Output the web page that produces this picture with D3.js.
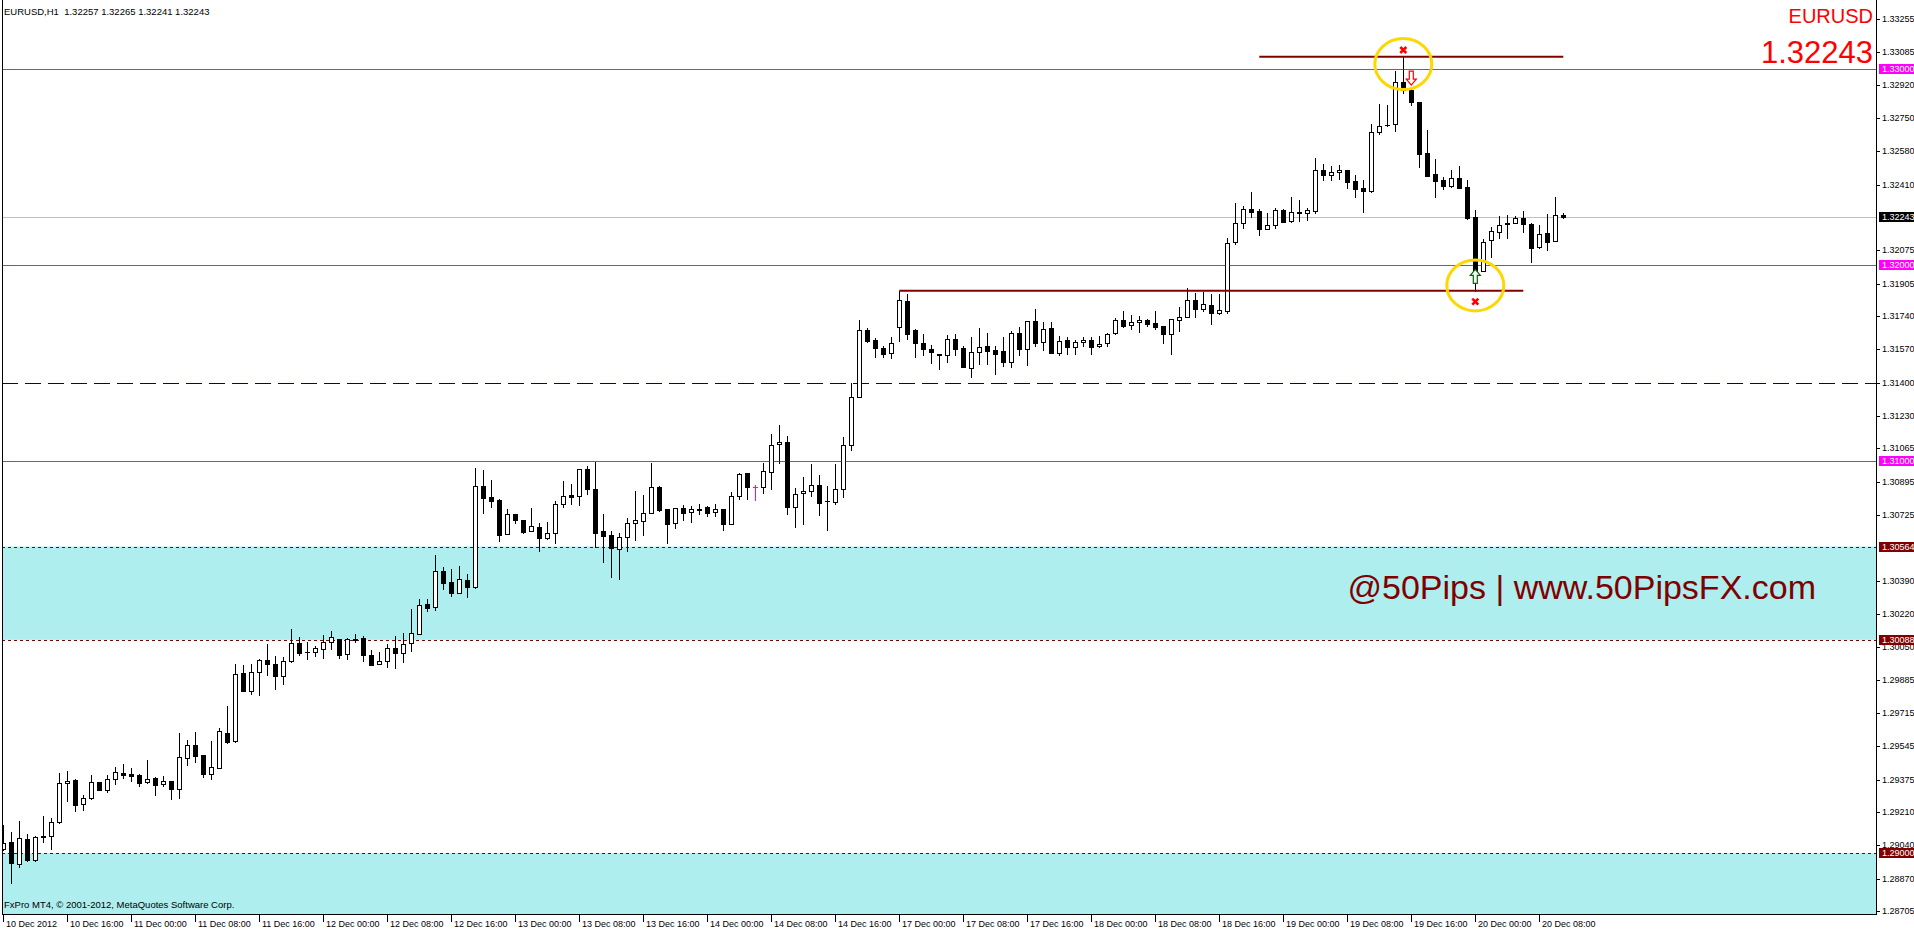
<!DOCTYPE html>
<html><head><meta charset="utf-8">
<script src="https://cdn.jsdelivr.net/npm/d3@7"></script>
<style>
html,body{margin:0;padding:0;background:#fff;overflow:hidden}
svg{display:block}
text{font-family:"Liberation Sans",Arial,sans-serif}
</style></head><body>
<svg id="c" width="1914" height="931"></svg>
<script>
// ---------------- DATA ----------------
const symbol = "EURUSD";
const timeframe = "H1";
const lastOHLC = [1.32257, 1.32265, 1.32241, 1.32243];
const lastPrice = 1.32243;

const opens = [1.29020,1.29056,1.28943,1.29071,1.28967,1.29086,1.29086,1.29161,1.29356,1.29373,
1.29249,1.29280,1.29362,1.29324,1.29377,1.29409,1.29404,1.29397,1.29362,1.29382,
1.29351,1.29367,1.29329,1.29484,1.29550,1.29499,1.29406,1.29436,1.29611,1.29572,
1.29917,1.29829,1.29923,1.29985,1.29963,1.29906,1.29979,1.30070,1.30025,1.30025,
1.30043,1.30076,1.30091,1.30014,1.30094,1.30096,1.30009,1.29963,1.29979,1.30045,
1.30020,1.30071,1.30116,1.30271,1.30254,1.30438,1.30382,1.30326,1.30394,1.30360,
1.30871,1.30817,1.30800,1.30626,1.30728,1.30700,1.30642,1.30662,1.30609,1.30632,
1.30779,1.30825,1.30820,1.30958,1.30856,1.30642,1.30621,1.30550,1.30611,1.30683,
1.30693,1.30734,1.30866,1.30754,1.30683,1.30759,1.30739,1.30754,1.30764,1.30739,
1.30754,1.30678,1.30820,1.30938,1.30866,1.30866,1.30943,1.31086,1.31096,1.30764,
1.30836,1.30846,1.30876,1.30795,1.30793,1.30856,1.31080,1.31325,1.31667,1.31616,
1.31575,1.31550,1.31682,1.31815,1.31667,1.31601,1.31570,1.31548,1.31540,1.31621,
1.31577,1.31477,1.31555,1.31585,1.31565,1.31562,1.31504,1.31653,1.31570,1.31713,
1.31606,1.31677,1.31550,1.31616,1.31584,1.31606,1.31618,1.31585,1.31604,1.31652,
1.31718,1.31693,1.31708,1.31720,1.31704,1.31687,1.31647,1.31721,1.31733,1.31820,
1.31774,1.31795,1.31754,1.31768,1.32116,1.32213,1.32284,1.32274,1.32182,1.32203,
1.32279,1.32227,1.32269,1.32264,1.32278,1.32483,1.32461,1.32473,1.32483,1.32427,
1.32391,1.32380,1.32677,1.32716,1.32718,1.32932,1.32893,1.32833,1.32570,1.32463,
1.32434,1.32405,1.32442,1.32398,1.32244,1.31972,1.32126,1.32167,1.32213,1.32216,
1.32238,1.32208,1.32091,1.32162,1.32121,1.32257];

const highs = [1.29144,1.29107,1.29164,1.29098,1.29086,1.29190,1.29180,1.29409,1.29419,1.29377,
1.29297,1.29399,1.29362,1.29399,1.29440,1.29455,1.29435,1.29404,1.29475,1.29390,
1.29394,1.29367,1.29613,1.29577,1.29618,1.29499,1.29572,1.29637,1.29751,1.29965,
1.29960,1.29965,1.29991,1.30067,1.30006,1.29999,1.30144,1.30101,1.30079,1.30057,
1.30113,1.30133,1.30091,1.30096,1.30118,1.30108,1.30037,1.30026,1.30067,1.30108,
1.30123,1.30246,1.30297,1.30297,1.30521,1.30460,1.30450,1.30465,1.30424,1.30965,
1.30955,1.30904,1.30805,1.30756,1.30728,1.30700,1.30761,1.30684,1.30689,1.30796,
1.30898,1.30885,1.30958,1.30975,1.30997,1.30730,1.30642,1.30632,1.30708,1.30847,
1.30827,1.30990,1.30871,1.30757,1.30759,1.30776,1.30771,1.30781,1.30771,1.30781,
1.30754,1.30841,1.30939,1.30938,1.30878,1.30990,1.31138,1.31184,1.31128,1.30861,
1.30919,1.30985,1.30929,1.30873,1.30985,1.31123,1.31398,1.31720,1.31679,1.31628,
1.31587,1.31633,1.31869,1.31852,1.31672,1.31648,1.31591,1.31548,1.31643,1.31648,
1.31587,1.31633,1.31677,1.31653,1.31587,1.31633,1.31665,1.31682,1.31716,1.31774,
1.31711,1.31711,1.31638,1.31631,1.31616,1.31635,1.31631,1.31636,1.31655,1.31728,
1.31766,1.31744,1.31742,1.31725,1.31764,1.31687,1.31723,1.31784,1.31881,1.31856,
1.31861,1.31853,1.31853,1.32136,1.32317,1.32303,1.32373,1.32284,1.32266,1.32291,
1.32284,1.32347,1.32332,1.32289,1.32546,1.32516,1.32505,1.32510,1.32483,1.32458,
1.32436,1.32718,1.32822,1.32816,1.32992,1.33063,1.32900,1.32833,1.32689,1.32539,
1.32451,1.32483,1.32504,1.32432,1.32279,1.32131,1.32196,1.32249,1.32254,1.32252,
1.32274,1.32216,1.32203,1.32261,1.32346,1.32265];

const lows = [1.29016,1.28850,1.28928,1.28962,1.28962,1.29059,1.29023,1.29156,1.29268,1.29217,
1.29219,1.29278,1.29324,1.29314,1.29351,1.29385,1.29370,1.29345,1.29356,1.29299,
1.29341,1.29278,1.29283,1.29452,1.29467,1.29389,1.29379,1.29433,1.29564,1.29569,
1.29829,1.29812,1.29809,1.29909,1.29839,1.29865,1.29977,1.30013,1.29992,1.30006,
1.29997,1.30043,1.29997,1.29992,1.30077,1.29982,1.29962,1.29963,1.29952,1.29946,
1.29977,1.30033,1.30116,1.30237,1.30242,1.30349,1.30314,1.30326,1.30309,1.30354,
1.30737,1.30768,1.30594,1.30626,1.30686,1.30635,1.30642,1.30543,1.30604,1.30584,
1.30768,1.30783,1.30778,1.30834,1.30560,1.30487,1.30411,1.30400,1.30543,1.30598,
1.30625,1.30734,1.30747,1.30584,1.30661,1.30701,1.30691,1.30729,1.30720,1.30720,
1.30650,1.30678,1.30808,1.30808,1.30802,1.30839,1.30859,1.30992,1.30729,1.30666,
1.30681,1.30824,1.30727,1.30650,1.30783,1.30819,1.31058,1.31325,1.31607,1.31533,
1.31533,1.31528,1.31614,1.31621,1.31529,1.31541,1.31499,1.31472,1.31507,1.31540,
1.31478,1.31427,1.31495,1.31494,1.31443,1.31483,1.31482,1.31541,1.31489,1.31587,
1.31567,1.31550,1.31541,1.31545,1.31545,1.31589,1.31545,1.31580,1.31587,1.31648,
1.31686,1.31676,1.31660,1.31689,1.31676,1.31604,1.31548,1.31665,1.31733,1.31733,
1.31767,1.31701,1.31751,1.31757,1.32106,1.32191,1.32247,1.32155,1.32182,1.32191,
1.32218,1.32218,1.32225,1.32232,1.32267,1.32436,1.32436,1.32441,1.32395,1.32349,
1.32272,1.32371,1.32669,1.32711,1.32686,1.32876,1.32816,1.32499,1.32456,1.32349,
1.32388,1.32400,1.32395,1.32233,1.31870,1.31972,1.32043,1.32140,1.32140,1.32213,
1.32167,1.32017,1.32089,1.32079,1.32121,1.32241];

const closes = [1.29054,1.28948,1.29076,1.28967,1.29081,1.29081,1.29158,1.29356,1.29368,1.29248,
1.29280,1.29362,1.29324,1.29377,1.29413,1.29401,1.29396,1.29360,1.29377,1.29350,
1.29367,1.29329,1.29489,1.29550,1.29498,1.29406,1.29438,1.29622,1.29567,1.29912,
1.29829,1.29923,1.29985,1.29967,1.29906,1.29979,1.30070,1.30023,1.30024,1.30045,
1.30077,1.30101,1.30013,1.30091,1.30089,1.30013,1.29962,1.29979,1.30045,1.30023,
1.30065,1.30122,1.30264,1.30252,1.30438,1.30380,1.30329,1.30397,1.30360,1.30871,
1.30813,1.30798,1.30625,1.30728,1.30698,1.30640,1.30667,1.30609,1.30632,1.30779,
1.30820,1.30819,1.30958,1.30856,1.30635,1.30620,1.30555,1.30611,1.30683,1.30698,
1.30734,1.30866,1.30751,1.30681,1.30759,1.30737,1.30754,1.30753,1.30737,1.30754,
1.30678,1.30820,1.30934,1.30866,1.30866,1.30948,1.31080,1.31096,1.30764,1.30831,
1.30848,1.30876,1.30788,1.30795,1.30856,1.31080,1.31325,1.31667,1.31614,1.31575,
1.31548,1.31601,1.31820,1.31647,1.31601,1.31570,1.31555,1.31540,1.31621,1.31574,
1.31482,1.31555,1.31580,1.31563,1.31545,1.31507,1.31653,1.31570,1.31713,1.31601,
1.31672,1.31550,1.31613,1.31580,1.31606,1.31618,1.31580,1.31597,1.31648,1.31718,
1.31691,1.31708,1.31718,1.31701,1.31682,1.31647,1.31723,1.31733,1.31820,1.31774,
1.31800,1.31754,1.31769,1.32111,1.32213,1.32284,1.32272,1.32182,1.32203,1.32279,
1.32221,1.32269,1.32266,1.32279,1.32483,1.32461,1.32473,1.32483,1.32425,1.32390,
1.32380,1.32677,1.32708,1.32713,1.32932,1.32893,1.32833,1.32567,1.32456,1.32431,
1.32405,1.32442,1.32395,1.32238,1.31972,1.32118,1.32172,1.32203,1.32208,1.32238,
1.32208,1.32089,1.32157,1.32119,1.32257,1.32243];

const firstBarTime = new Date(2012, 11, 10, 8, 0);
const priceTicks = [1.33255,1.33085,1.32920,1.32750,1.32580,1.32410,1.32075,1.31905,1.31740,1.31570,
1.31400,1.31230,1.31065,1.30895,1.30725,1.30390,1.30220,1.30050,1.29885,1.29715,1.29545,1.29375,
1.29210,1.29040,1.28870,1.28705];
const magentaLevels = [1.33000, 1.32000, 1.31000];
const dashedLevel = 1.31400;
const zoneLevels = [1.30564, 1.30088, 1.29000];
const zones = [[1.30564, 1.30088], [1.29000, null]];
const trendLines = [{from:157, to:195, price:1.33063}, {from:112, to:190, price:1.31869}];
const circles = [{bar:175, price:1.33025}, {bar:184, price:1.31896}];
const crosses = [{bar:175, price:1.33097}, {bar:184, price:1.31813}];
const arrows = [{bar:176, price:1.32918, dir:"down"}, {bar:184, price:1.31978, dir:"up"}];
const signalBars = [94];
const watermark = "@50Pips | www.50PipsFX.com";
const copyright = "FxPro MT4, \u00A9 2001-2012, MetaQuotes Software Corp.";

// ---------------- LAYOUT ----------------
const svg = d3.select("#c");
const plotL = 2, plotR = 1876, plotB = 914;
const x = d3.scaleLinear().domain([0, opens.length - 1]).range([3.3, 1563.3]);
const y = d3.scaleLinear().domain([1.28705, 1.33255]).range([911, 19]);
const FONT = '"Liberation Sans", Arial, sans-serif';

svg.append("rect").attr("width", 1914).attr("height", 931).attr("fill", "#fff");
svg.append("defs").append("clipPath").attr("id", "clip")
  .append("rect").attr("x", plotL + 1).attr("y", 0).attr("width", plotR - plotL - 1).attr("height", plotB);

const plot = svg.append("g").attr("clip-path", "url(#clip)");

// zones
plot.selectAll("rect.zone").data(zones).join("rect").attr("class", "zone")
  .attr("x", plotL).attr("width", plotR - plotL)
  .attr("y", d => y(d[0]))
  .attr("height", d => (d[1] === null ? plotB : y(d[1])) - y(d[0]))
  .attr("fill", "#AFEEEE");

// level lines
plot.selectAll("line.mag").data(magentaLevels).join("line")
  .attr("x1", plotL).attr("x2", plotR)
  .attr("y1", d => Math.round(y(d)) + 0.5).attr("y2", d => Math.round(y(d)) + 0.5)
  .attr("stroke", "#FF00FF").attr("stroke-width", 1);
plot.append("line").attr("x1", plotL).attr("x2", plotR)
  .attr("y1", Math.round(y(lastPrice)) + 0.5).attr("y2", Math.round(y(lastPrice)) + 0.5)
  .attr("stroke", "#C0C0C0");
plot.append("line").attr("x1", plotL).attr("x2", plotR)
  .attr("y1", Math.round(y(dashedLevel)) + 0.5).attr("y2", Math.round(y(dashedLevel)) + 0.5)
  .attr("stroke", "#000080").attr("stroke-dasharray", "16,7");
plot.selectAll("line.zl").data(zoneLevels).join("line")
  .attr("x1", plotL).attr("x2", plotR)
  .attr("y1", d => Math.round(y(d)) + 0.5).attr("y2", d => Math.round(y(d)) + 0.5)
  .attr("stroke", "#800000").attr("stroke-dasharray", "3,3");

// candles
const bars = opens.map((o, i) => ({i, o, h: highs[i], l: lows[i], c: closes[i]}));
const cg = plot.append("g");
bars.forEach(b => {
  const cx = Math.round(x(b.i));
  const col = signalBars.includes(b.i) ? "#FF00FF" : "#000";
  const top = Math.round(y(Math.max(b.o, b.c)));
  const bot = Math.round(y(Math.min(b.o, b.c)));
  const hy = Math.round(y(Math.max(b.h, b.o, b.c)));
  const ly = Math.round(y(Math.min(b.l, b.o, b.c)));
  cg.append("line").attr("x1", cx + 0.5).attr("x2", cx + 0.5).attr("y1", hy).attr("y2", ly + 1)
    .attr("stroke", col);
  if (bot - top < 1) {
    cg.append("line").attr("x1", cx - 2).attr("x2", cx + 3).attr("y1", top + 0.5).attr("y2", top + 0.5)
      .attr("stroke", col);
  } else {
    cg.append("rect").attr("x", cx - 1.5).attr("y", top + 0.5).attr("width", 4).attr("height", bot - top)
      .attr("fill", b.c >= b.o ? "#fff" : col).attr("stroke", col);
  }
});

// trend lines
plot.selectAll("line.trend").data(trendLines).join("line")
  .attr("x1", d => x(d.from)).attr("x2", d => x(d.to))
  .attr("y1", d => y(d.price)).attr("y2", d => y(d.price))
  .attr("stroke", "#800000").attr("stroke-width", 2);

// yellow circles
plot.selectAll("ellipse").data(circles).join("ellipse")
  .attr("cx", d => x(d.bar)).attr("cy", d => y(d.price)).attr("rx", 28.5).attr("ry", 25.5)
  .attr("fill", "none").attr("stroke", "#FFD700").attr("stroke-width", 3);

// red crosses
plot.selectAll("path.cross").data(crosses).join("path")
  .attr("transform", d => `translate(${x(d.bar)},${y(d.price)})`)
  .attr("d", "M-3,-3L3,3M-3,3L3,-3")
  .attr("stroke", "#FF0000").attr("stroke-width", 2.6).attr("fill", "none");

// hollow arrows
plot.selectAll("path.arrow").data(arrows).join("path")
  .attr("transform", d => `translate(${x(d.bar)},${y(d.price)})` + (d.dir === "down" ? "" : " scale(1,-1)"))
  .attr("d", "M0,0L-5,-6L-2,-6L-2,-14L2,-14L2,-6L5,-6Z")
  .attr("fill", "#fff")
  .attr("stroke", d => d.dir === "down" ? "#FF0000" : "#006400").attr("stroke-width", 1.2);

// watermark
svg.append("text").attr("x", 1816).attr("y", 599).attr("text-anchor", "end")
  .attr("font-size", 34).attr("fill", "#800000").text(watermark);

// header
svg.append("text").attr("x", 4).attr("y", 15).attr("font-size", 9.5).attr("fill", "#000")
  .style("white-space", "pre")
  .text(`${symbol},${timeframe}  ${lastOHLC.map(v => v.toFixed(5)).join(" ")}`);
svg.append("text").attr("x", 1873).attr("y", 23).attr("text-anchor", "end")
  .attr("font-size", 20).attr("fill", "#FF0000").text(symbol);
svg.append("text").attr("x", 1873).attr("y", 63).attr("text-anchor", "end")
  .attr("font-size", 31).attr("fill", "#FF0000").text(lastPrice.toFixed(5));
svg.append("text").attr("x", 4).attr("y", 908).attr("font-size", 9.5).attr("fill", "#000").text(copyright);

// frame
svg.append("line").attr("x1", plotL + 0.5).attr("x2", plotL + 0.5).attr("y1", 0).attr("y2", plotB + 1).attr("stroke", "#000");
svg.append("line").attr("x1", plotR + 0.5).attr("x2", plotR + 0.5).attr("y1", 0).attr("y2", plotB + 1).attr("stroke", "#000");
svg.append("line").attr("x1", plotL).attr("x2", plotR + 1).attr("y1", plotB + 0.5).attr("y2", plotB + 0.5).attr("stroke", "#000");

// right price axis
const ax = svg.append("g");
ax.selectAll("line.pt").data(priceTicks).join("line")
  .attr("x1", plotR + 1).attr("x2", plotR + 4)
  .attr("y1", d => Math.round(y(d)) + 0.5).attr("y2", d => Math.round(y(d)) + 0.5).attr("stroke", "#000");
ax.selectAll("text.pt").data(priceTicks).join("text")
  .attr("x", plotR + 6).attr("y", d => y(d)).attr("dy", "0.35em")
  .attr("font-size", 9).attr("fill", "#000").text(d => d.toFixed(5));

const boxes = [
  ...magentaLevels.map(p => ({p, bg: "#FF00FF"})),
  {p: lastPrice, bg: "#000"},
  ...zoneLevels.map(p => ({p, bg: "#800000"}))
];
const bx = ax.selectAll("g.box").data(boxes).join("g")
  .attr("transform", d => `translate(${plotR + 3},${Math.round(y(d.p))})`);
bx.append("rect").attr("x", 0).attr("y", -5).attr("width", 40).attr("height", 10).attr("fill", d => d.bg);
bx.append("text").attr("x", 3).attr("y", 0).attr("dy", "0.35em").attr("font-size", 9)
  .attr("fill", "#fff").text(d => d.p.toFixed(5));

// time axis
const times = [];
let t = new Date(firstBarTime);
while (times.length < opens.length) {
  const wd = t.getDay();
  if (wd !== 0 && wd !== 6) times.push(new Date(t));
  t = new Date(t.getTime() + 3600000);
}
const fmtFirst = d3.timeFormat("%-d %b %Y"), fmt = d3.timeFormat("%-d %b %H:%M");
const tickIdx = d3.range(0, times.length, 8);
const tx = svg.append("g");
tx.selectAll("line").data(tickIdx).join("line")
  .attr("x1", i => Math.round(x(i)) + 0.5).attr("x2", i => Math.round(x(i)) + 0.5)
  .attr("y1", plotB + 1).attr("y2", plotB + 8).attr("stroke", "#000");
tx.selectAll("text").data(tickIdx).join("text")
  .attr("x", i => Math.round(x(i)) + 3).attr("y", 927).attr("font-size", 9).attr("fill", "#000")
  .text(i => i === 0 ? fmtFirst(times[i]) : fmt(times[i]));
</script>
</body></html>
